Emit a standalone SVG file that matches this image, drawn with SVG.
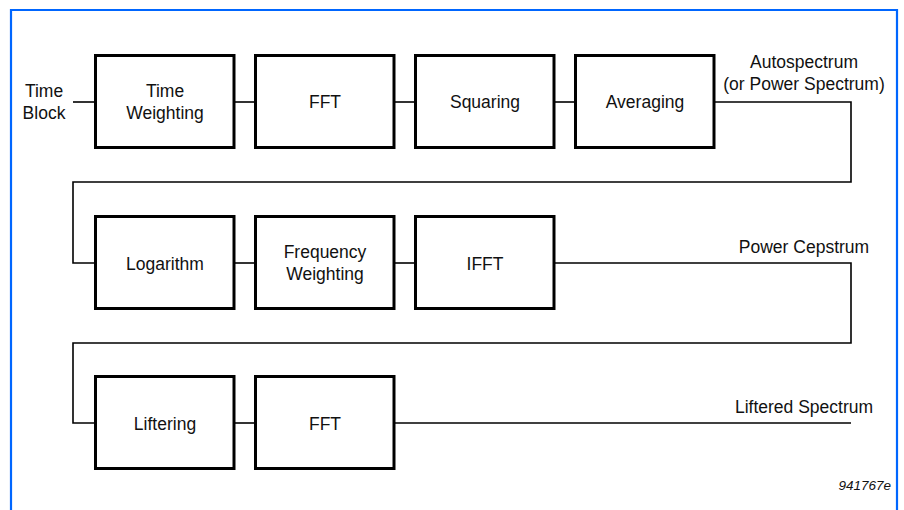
<svg xmlns="http://www.w3.org/2000/svg" width="904" height="510" viewBox="0 0 904 510">
<style>
.box{fill:#fff;stroke:#000;stroke-width:3}
.ln{fill:none;stroke:#000;stroke-width:1.6}
text{font-family:"Liberation Sans",Arial,sans-serif;font-size:17.5px;fill:#111;text-anchor:middle}
.id{font-size:13.5px;font-style:italic;text-anchor:end}
</style>
<rect width="904" height="510" fill="#fff"/>
<path d="M11,510 V10 H897 V510" fill="none" stroke="#0066ff" stroke-width="2.2"/>
<g id="connectors">
<path class="ln" d="M73,102 H96"/>
<path class="ln" d="M234,102 H256"/>
<path class="ln" d="M394,102 H416"/>
<path class="ln" d="M554,102 H576"/>
<path class="ln" d="M714,102 H851 V182 H73 V263 H96"/>
<path class="ln" d="M234,263 H256"/>
<path class="ln" d="M394,263 H416"/>
<path class="ln" d="M554,263 H851 V343 H73 V423 H96"/>
<path class="ln" d="M234,423 H256"/>
<path class="ln" d="M394,423 H851"/>
</g>
<g id="time-block"><text x="44" y="97">Time</text><text x="44" y="119">Block</text></g>
<g id="time-weighting"><rect class="box" x="95.5" y="55.5" width="138.5" height="92"/><text x="165" y="97">Time</text><text x="165" y="119">Weighting</text></g>
<g id="fft1"><rect class="box" x="255.5" y="55.5" width="138.5" height="92"/><text x="325" y="108">FFT</text></g>
<g id="squaring"><rect class="box" x="415.5" y="55.5" width="138.5" height="92"/><text x="485" y="108">Squaring</text></g>
<g id="averaging"><rect class="box" x="575.5" y="55.5" width="138.5" height="92"/><text x="645" y="108">Averaging</text></g>
<g id="autospectrum"><text x="804" y="68">Autospectrum</text><text x="804" y="90">(or Power Spectrum)</text></g>
<g id="logarithm"><rect class="box" x="95.5" y="216.5" width="138.5" height="92"/><text x="165" y="270">Logarithm</text></g>
<g id="frequency-weighting"><rect class="box" x="255.5" y="216.5" width="138.5" height="92"/><text x="325" y="258">Frequency</text><text x="325" y="280">Weighting</text></g>
<g id="ifft"><rect class="box" x="415.5" y="216.5" width="138.5" height="92"/><text x="485" y="270">IFFT</text></g>
<g id="power-cepstrum"><text x="804" y="253">Power Cepstrum</text></g>
<g id="liftering"><rect class="box" x="95.5" y="376.5" width="138.5" height="92"/><text x="165" y="430">Liftering</text></g>
<g id="fft2"><rect class="box" x="255.5" y="376.5" width="138.5" height="92"/><text x="325" y="430">FFT</text></g>
<g id="liftered-spectrum"><text x="804" y="413">Liftered Spectrum</text></g>
<text class="id" x="891" y="490">941767e</text>
</svg>
